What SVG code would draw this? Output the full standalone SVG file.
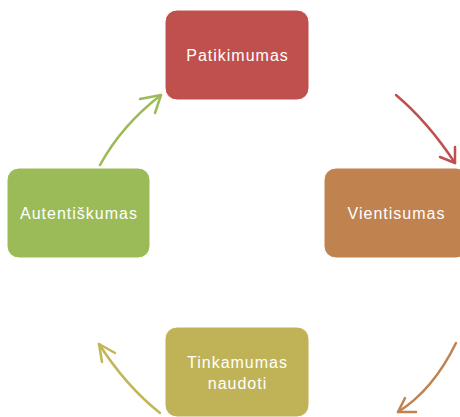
<svg xmlns="http://www.w3.org/2000/svg" width="460" height="417" viewBox="0 0 460 417">
  <defs>
    <style>
      .box { stroke: #ffffff; stroke-width: 1; }
      .lbl { font-family: "Liberation Sans", Arial, sans-serif; font-size: 16px; fill: #ffffff; text-anchor: middle; letter-spacing: 1px; }
      .arr { fill: none; stroke-width: 2.5; stroke-linecap: round; stroke-linejoin: round; }
    </style>
  </defs>
  <rect width="460" height="417" fill="#ffffff"/>

  <g id="connectors">
    <g stroke="#C0504D" class="arr">
      <path class="arr" d="M396,95 Q428,122 455,163"/>
      <path class="arr" d="M440,157 L455,163 L455,147"/>
    </g>
    <g stroke="#C0824F" class="arr">
      <path class="arr" d="M456,343 Q433,390 398,412"/>
      <path class="arr" d="M405,398 L398,412 L416,412"/>
    </g>
    <g stroke="#C2B55A" class="arr">
      <path class="arr" d="M160,413 Q126,386 99,344"/>
      <path class="arr" d="M115,353 L99,344 L102,362"/>
    </g>
    <g stroke="#9BBB59" class="arr">
      <path class="arr" d="M100,165 Q122,125 161,95"/>
      <path class="arr" d="M140,99 L161,95 L155,113"/>
    </g>
  </g>

  <g id="patikimumas">
    <rect class="box" x="165" y="10" width="144" height="90" rx="12" fill="#C0504D"/>
    <text class="lbl" x="237.5" y="61">Patikimumas</text>
  </g>
  <g id="vientisumas">
    <rect class="box" x="324" y="168" width="144" height="90" rx="12" fill="#C0824F"/>
    <text class="lbl" x="396.5" y="219">Vientisumas</text>
  </g>
  <g id="tinkamumas">
    <rect class="box" x="165" y="327" width="144" height="90" rx="12" fill="#C0B357"/>
    <text class="lbl" x="237.5" y="368">Tinkamumas</text>
    <text class="lbl" x="237.5" y="389">naudoti</text>
  </g>
  <g id="autentiskumas">
    <rect class="box" x="7" y="168" width="143" height="90" rx="12" fill="#9BBB59"/>
    <text class="lbl" x="79" y="219">Autentiškumas</text>
  </g>
</svg>
